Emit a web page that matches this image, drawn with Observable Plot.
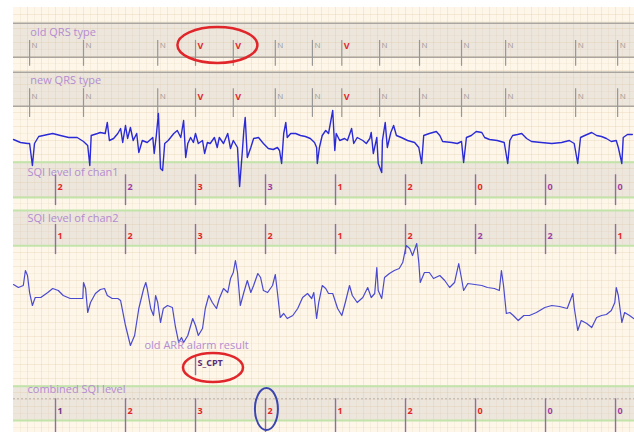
<!DOCTYPE html>
<html><head><meta charset="utf-8">
<script src="https://cdn.jsdelivr.net/npm/d3@7"></script>
<script src="https://cdn.jsdelivr.net/npm/@observablehq/plot@0.6"></script>
<style>body{margin:0;background:#fff;} #chart svg{display:block;}</style>
</head><body><div id="chart"></div>
<script>
// ---------- DATA ----------
// beat annotations (time in s)
const qrsTimes = [0.63,1.40,2.46,3.00,3.54,4.14,4.67,5.09,5.63,6.20,6.80,7.43,8.43,9.03];
const oldQrsTypes = ["N","N","N","V","V","N","N","V","N","N","N","N","N","N"];
const newQrsTypes = ["N","N","N","V","V","N","N","V","N","N","N","N","N","N"];
// SQI levels, one per second
const sqiTimes = [1,2,3,4,5,6,7,8,9];
const sqiChan1 = [2,2,3,3,1,2,0,0,0];
const sqiChan1State = ["new","old","new","old","new","new","new","old","old"];
const sqiChan2 = [1,2,3,2,1,2,2,2,1];
const sqiChan2State = ["new","new","new","new","new","new","old","old","new"];
const sqiCombined = [1,2,3,2,1,2,0,0,0];
const sqiCombinedState = ["base","new","new","new","new","new","new","old","old"];
// alarm result
const alarmTimes = [3.0];
const alarmLabels = ["S_CPT"];
// ECG channel 1 (time s, amplitude mV)
const ecg1T = [0.40,0.50,0.60,0.63,0.67,0.70,0.76,0.89,0.96,1.07,1.19,1.31,1.40,1.46,1.49,1.51,1.60,1.64,1.71,1.74,1.77,1.83,1.89,1.93,1.96,2.00,2.03,2.07,2.11,2.16,2.19,2.24,2.31,2.39,2.41,2.44,2.47,2.50,2.53,2.56,2.61,2.69,2.74,2.79,2.83,2.86,2.89,2.93,2.97,3.00,3.04,3.10,3.13,3.17,3.21,3.27,3.31,3.34,3.40,3.46,3.50,3.54,3.60,3.63,3.67,3.69,3.71,3.74,3.79,3.83,3.90,3.97,4.04,4.11,4.17,4.20,4.23,4.26,4.29,4.31,4.36,4.43,4.50,4.57,4.64,4.70,4.73,4.74,4.77,4.81,4.86,4.90,4.96,4.99,5.01,5.06,5.13,5.17,5.23,5.26,5.31,5.39,5.44,5.49,5.51,5.54,5.59,5.61,5.66,5.67,5.71,5.74,5.79,5.83,5.87,5.94,6.03,6.13,6.19,6.23,6.26,6.34,6.44,6.49,6.53,6.66,6.74,6.80,6.83,6.87,6.94,7.01,7.09,7.13,7.20,7.31,7.41,7.46,7.49,7.53,7.60,7.66,7.73,7.80,7.94,8.09,8.23,8.34,8.41,8.46,8.50,8.56,8.66,8.73,8.80,8.87,8.94,9.01,9.04,9.09,9.11,9.17,9.24];
const ecg1V = [0.05,-0.10,-0.15,-0.15,-1.25,-0.15,0.20,0.30,0.35,0.25,0.15,0.15,-0.05,-0.25,-1.25,0.25,0.35,0.40,0.35,0.90,0.00,0.10,0.35,0.60,-0.10,0.75,0.10,0.65,0.00,0.35,-0.60,0.00,-0.10,0.15,-0.65,0.25,1.35,-1.40,-1.50,-0.15,0.00,0.35,0.50,0.15,1.00,-0.85,-0.15,0.15,-0.10,0.35,-0.15,0.00,-0.65,-0.10,-0.15,0.15,-0.35,0.15,-0.15,0.35,-0.40,0.00,-0.35,-2.30,-0.50,0.50,1.15,-0.85,-0.35,0.10,0.15,-0.15,-0.40,-0.45,-0.35,-0.50,-1.15,0.35,0.90,0.15,0.35,0.35,0.25,0.20,0.10,-0.10,-0.35,-1.15,-0.35,0.25,0.50,0.35,1.50,-0.50,0.35,0.00,0.10,0.00,0.60,-0.15,0.15,0.00,-0.15,0.10,0.40,-0.65,0.15,-1.15,-1.60,0.00,0.90,-0.35,0.40,0.75,0.25,0.15,0.00,-0.10,-0.35,-1.15,0.25,0.35,0.45,0.25,-0.05,-0.10,-0.15,-0.05,-1.10,0.15,0.25,0.45,0.40,0.15,0.05,0.00,-0.10,-1.15,0.00,0.25,0.30,0.35,0.10,-0.05,-0.10,-0.15,-0.10,0.00,-0.15,-1.15,0.15,0.25,0.40,0.25,0.20,0.10,-0.05,0.00,-0.35,-1.15,0.15,0.30,0.30];
// ECG channel 2 (time s, amplitude mV)
const ecg2T = [0.40,0.47,0.54,0.57,0.60,0.63,0.67,0.71,0.79,0.89,0.96,1.04,1.11,1.21,1.31,1.39,1.40,1.43,1.46,1.50,1.57,1.64,1.70,1.74,1.81,1.89,1.93,2.00,2.07,2.13,2.19,2.26,2.29,2.31,2.36,2.40,2.43,2.46,2.50,2.54,2.60,2.67,2.71,2.76,2.80,2.83,2.89,2.96,3.00,3.04,3.10,3.14,3.19,3.24,3.30,3.34,3.40,3.46,3.50,3.54,3.57,3.60,3.64,3.69,3.74,3.79,3.83,3.89,3.93,3.97,4.03,4.10,4.14,4.17,4.21,4.26,4.31,4.39,4.46,4.53,4.60,4.66,4.69,4.73,4.76,4.81,4.86,4.90,4.96,5.03,5.09,5.14,5.20,5.24,5.31,5.39,5.46,5.51,5.56,5.59,5.61,5.66,5.70,5.77,5.84,5.91,5.96,6.01,6.06,6.10,6.16,6.19,6.21,6.27,6.34,6.40,6.49,6.56,6.63,6.70,6.76,6.80,6.83,6.89,6.99,7.09,7.17,7.27,7.34,7.37,7.40,7.44,7.49,7.54,7.61,7.69,7.77,7.87,7.99,8.09,8.20,8.31,8.39,8.41,8.46,8.51,8.59,8.66,8.73,8.80,8.87,8.94,8.99,9.01,9.04,9.09,9.13,9.20,9.26];
const ecg2V = [0.30,0.15,0.25,1.00,0.75,-0.10,-0.75,-0.35,-0.35,-0.10,0.10,0.00,-0.25,-0.40,-0.40,-0.40,0.40,0.10,-1.10,-0.60,-0.15,0.05,0.10,-0.25,-0.40,-0.40,-0.50,-1.75,-2.75,-2.25,-0.90,0.10,0.40,0.10,-0.90,-1.25,-0.25,-0.60,-1.60,-0.90,-0.75,-0.85,-1.75,-2.60,-2.35,-2.60,-2.25,-1.40,-1.75,-2.25,-1.90,-0.90,-0.25,-0.60,-0.90,-0.40,0.10,-0.10,0.60,0.90,1.50,0.90,-0.75,-0.10,0.50,-0.10,0.25,0.85,0.65,0.00,-0.10,0.25,0.80,-0.10,-1.35,-1.15,-1.40,-1.25,-0.90,-0.35,-0.15,-0.40,-0.10,-1.40,-0.60,0.25,0.10,-0.15,-0.15,-0.90,-1.25,-0.60,0.25,-0.25,-0.60,-0.35,0.15,-0.35,-0.15,1.15,0.00,-0.40,0.65,0.85,1.00,1.10,1.40,2.25,2.10,1.75,2.35,1.40,0.40,0.90,0.90,0.60,0.75,0.50,0.15,0.40,1.35,0.60,0.00,0.35,0.30,0.25,0.15,0.10,0.00,1.00,0.25,-1.15,-1.10,-1.25,-1.50,-1.25,-1.25,-1.10,-0.85,-0.75,-0.80,-0.90,-0.15,-0.85,-2.00,-1.50,-1.65,-1.85,-1.35,-1.25,-1.20,-1.00,-0.60,0.15,-0.25,-1.60,-1.10,-1.25,-1.40];

// ---------- LAYOUT (grid units, 1 unit = one small square) ----------
const T0 = 0.4, T1 = 9.271, YMAX = 432/7;
const L = {
  sheetTop: 1,
  qrsOld: {top: 3.25, bottom: 8.1, label: 4.55, tickTop: 5.7, tickBottom: 9.4, text: 6.45},
  qrsNew: {top: 10.25, bottom: 15.1, label: 11.45, tickTop: 12.6, tickBottom: 16.7, text: 13.75},
  ecg1: {base: 20, gain: 20/7},
  sqi1: {top: 23.1, bottom: 28.15, label: 24.6, tickTop: 24.9, tickBottom: 29.3, text: 26.6},
  sqi2: {top: 30, bottom: 35.05, label: 31.2, tickTop: 32, tickBottom: 36.3, text: 33.6},
  ecg2: {base: 41.43, gain: 20/7},
  alarm: {label: 49.3, labelT: 2.27, tickTop: 50.7, tickBottom: 53.6, text: 51.75},
  comb: {top: 55.1, bottom: 60, label: 55.5, dotted: 56.9, tickTop: 56.9, tickBottom: 61.714, text: 58.6},
  labelT: 0.64
};
const C = {
  sheet: "#fdf6e9", band: "#ece6dd", qrsLine: "#aaa59e", green: "#c2e4aa",
  grid: "#d9b98e", label: "#b38cd0", tick: "#979797", sqiTick: "#8f6f9f",
  red: "#e2262a", purple: "#9c3fa6", dark: "#6a3a86", trace1: "#2a2ad6", trace2: "#4a4ad0"
};
const stateColor = {new: C.red, old: C.purple, base: C.dark};

// ---------- helpers ----------
const ecg1 = ecg1T.map((t, i) => ({t, v: ecg1V[i]}));
const ecg2 = ecg2T.map((t, i) => ({t, v: ecg2V[i]}));
const beats = (types) => qrsTimes.map((t, i) => ({t, type: types[i]}));
const sqi = (vals, states) => sqiTimes.map((t, i) => ({t, level: vals[i], state: states[i]}));

function ellipse(t, y, rx, ry, color, w) {
  return (index, scales) => {
    const e = document.createElementNS("http://www.w3.org/2000/svg", "ellipse");
    e.setAttribute("cx", scales.x(t)); e.setAttribute("cy", scales.y(y));
    e.setAttribute("rx", rx); e.setAttribute("ry", ry);
    e.setAttribute("fill", "none"); e.setAttribute("stroke", color); e.setAttribute("stroke-width", w);
    return e;
  };
}

function band(b) {
  return Plot.rect([b], {x1: T0, x2: T1, y1: "top", y2: "bottom", fill: C.band});
}
function bandLines(b, lineColor, lw) {
  return Plot.ruleY([b.top, b.bottom], {x1: T0, x2: T1, stroke: lineColor, strokeWidth: lw});
}
function qrsMarks(b, types, name) {
  const d = beats(types);
  return [
    Plot.text([name], {x: L.labelT, y: b.label, text: d => d, textAnchor: "start", fill: C.label, fontSize: 11}),
    Plot.ruleX(d, {x: "t", y1: b.tickTop, y2: b.tickBottom, stroke: C.tick, strokeWidth: 1.2}),
    Plot.text(d.filter(e => e.type === "N"), {x: "t", y: b.text, text: "type", dx: 2, textAnchor: "start", fill: "#9a9a9a", fontSize: 8}),
    Plot.text(d.filter(e => e.type === "V"), {x: "t", y: b.text, text: "type", dx: 2, textAnchor: "start", fill: C.red, fontSize: 9, fontWeight: "bold"})
  ];
}
function sqiMarks(b, vals, states, name) {
  const d = sqi(vals, states);
  return [
    Plot.text([name], {x: L.labelT - 0.04, y: b.label, text: d => d, textAnchor: "start", fill: C.label, fontSize: 11}),
    Plot.ruleX(d, {x: "t", y1: b.tickTop, y2: b.tickBottom, stroke: C.sqiTick, strokeWidth: 1.4}),
    Plot.text(d, {x: "t", y: b.text, text: "level", dx: 2, textAnchor: "start", fill: d => stateColor[d.state], fontSize: 9, fontWeight: "bold"})
  ];
}

const minorT = d3.range(5, 93).map(i => i / 10);
const gridY = d3.range(2, 62);

const chart = Plot.plot({
  width: 634, height: 432,
  marginLeft: 0, marginRight: 0, marginTop: 0, marginBottom: 0,
  x: {domain: [T0, T1], range: [13, 634], axis: null},
  y: {domain: [0, YMAX], range: [0, 432], axis: null},
  style: {background: "#ffffff", fontFamily: "'Open Sans', 'DejaVu Sans', sans-serif", overflow: "visible"},
  marks: [
    Plot.rect([0], {x1: T0, x2: T1, y1: L.sheetTop, y2: YMAX, fill: C.sheet}),
    band(L.qrsOld), band(L.qrsNew), band(L.sqi1), band(L.sqi2), band(L.comb),
    Plot.ruleX(minorT, {y1: L.sheetTop, y2: YMAX, stroke: C.grid, strokeOpacity: d => (Math.round(d * 10) % 2 === 0 ? 0.24 : 0.12), strokeWidth: 1}),
    Plot.ruleY(gridY, {x1: T0, x2: T1, stroke: C.grid, strokeOpacity: d => (d % 2 === 0 ? 0.22 : 0.11), strokeWidth: 1}),
    bandLines(L.qrsOld, C.qrsLine, 1.6), bandLines(L.qrsNew, C.qrsLine, 1.6),
    bandLines(L.sqi1, C.green, 2), bandLines(L.sqi2, C.green, 2), bandLines(L.comb, C.green, 2),
    Plot.ruleY([L.comb.dotted], {x1: T0, x2: T1, stroke: "#b9b0a6", strokeDasharray: "2,2", strokeWidth: 1}),
    ...qrsMarks(L.qrsOld, oldQrsTypes, "old QRS type"),
    ...qrsMarks(L.qrsNew, newQrsTypes, "new QRS type"),
    Plot.line(ecg1, {x: "t", y: d => L.ecg1.base - d.v * L.ecg1.gain, stroke: C.trace1, strokeWidth: 1.4}),
    ...sqiMarks(L.sqi1, sqiChan1, sqiChan1State, "SQI level of chan1"),
    ...sqiMarks(L.sqi2, sqiChan2, sqiChan2State, "SQI level of chan2"),
    Plot.line(ecg2, {x: "t", y: d => L.ecg2.base - d.v * L.ecg2.gain, stroke: C.trace2, strokeWidth: 1.2}),
    Plot.text(["old ARR alarm result"], {x: L.alarm.labelT, y: L.alarm.label, text: d => d, textAnchor: "start", fill: C.label, fontSize: 11}),
    Plot.ruleX(alarmTimes, {y1: L.alarm.tickTop, y2: L.alarm.tickBottom, stroke: C.sqiTick, strokeWidth: 1.4}),
    Plot.text(alarmTimes, {x: d => d, y: L.alarm.text, text: (d, i) => alarmLabels[i], dx: 2, textAnchor: "start", fill: "#5a2c78", fontSize: 9, fontWeight: "bold"}),
    ...sqiMarks(L.comb, sqiCombined, sqiCombinedState, "combined SQI level"),
    ellipse(3.32, 6.43, 40, 18, "#e0262b", 2.5),
    ellipse(3.257, 52.5, 30, 14.5, "#e0262b", 2.5),
    ellipse(4.02, 58.43, 11.5, 21, "#3a45b0", 2)
  ]
});
document.getElementById("chart").appendChild(chart);
</script></body></html>
